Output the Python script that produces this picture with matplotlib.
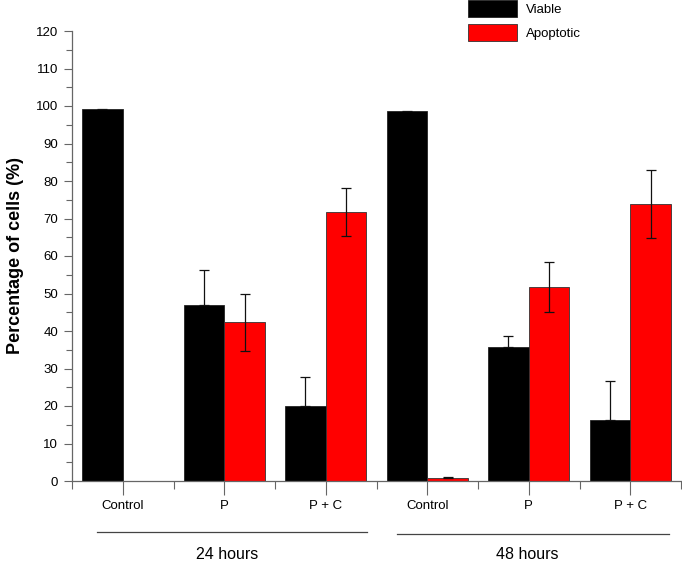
import numpy as np
import matplotlib
matplotlib.use('Agg')
import matplotlib.pyplot as plt
from matplotlib.ticker import MultipleLocator, FixedLocator
import matplotlib.transforms as mtransforms

plt.rcParams['font.family'] = ['Liberation Sans', 'DejaVu Sans']

groups = ['Control', 'P', 'P + C', 'Control', 'P', 'P + C']
viable = [99.3, 47.0, 20.0, 98.8, 35.8, 16.3]
viable_err = [np.nan, 9.4, 7.7, np.nan, 2.9, 10.4]
apoptotic = [0.0, 42.3, 71.8, 0.9, 51.8, 73.9]
apoptotic_err = [np.nan, 7.6, 6.4, 0.1, 6.7, 9.1]
periods = ['24 hours', '48 hours']

fig = plt.figure(figsize=(6.82, 5.63), dpi=100)
ax = fig.add_axes([72/682, 1-481/563, 609/682, 450/563])

x = np.arange(len(groups))
w = 0.4
gray = '#666666'
ekw = dict(ecolor='#111111', elinewidth=0.9, capsize=3.3, capthick=0.9)
# lower half of the viable error bars is hidden by the black bar in the original
ax.bar(x - w/2, viable, w, color='black', edgecolor='#222222', linewidth=0.6,
       yerr=[np.zeros(len(viable_err)), viable_err], error_kw=ekw, label='Viable')
ax.bar(x + w/2, apoptotic, w, color='#ff0000', edgecolor='#333333', linewidth=0.6,
       yerr=apoptotic_err, error_kw=ekw, label='Apoptotic')

ax.set_xlim(-0.5, 5.5)
ax.set_ylim(0, 120)
ax.yaxis.set_major_locator(MultipleLocator(10))
ax.yaxis.set_minor_locator(MultipleLocator(5))
ax.set_xticks(x)
ax.set_xticklabels(groups, fontsize=9.5)
ax.xaxis.set_minor_locator(FixedLocator(np.arange(-0.5, 6, 1.0)))
ax.tick_params(axis='y', which='major', length=6, width=0.8, color=gray, labelsize=9.5, pad=4)
ax.tick_params(axis='y', which='minor', length=4, width=0.8, color=gray)
ax.tick_params(axis='x', which='major', length=10, width=0.8, color=gray, pad=4)
ax.tick_params(axis='x', which='minor', length=6, width=0.8, color=gray)

for s in ['top', 'right']:
    ax.spines[s].set_visible(False)
for s in ['left', 'bottom']:
    ax.spines[s].set_color(gray)
    ax.spines[s].set_linewidth(0.9)

ax.set_ylabel('Percentage of cells (%)', fontsize=13, fontweight='bold')
ax.yaxis.set_label_coords(-0.078, 0.5)

# period brackets under the tick labels
trans = mtransforms.blended_transform_factory(ax.transData, ax.transAxes)
spans = [(-0.25, 2.41, -0.113), (2.70, 5.38, -0.118)]
for (x0, x1, yy), name in zip(spans, periods):
    ax.plot([x0, x1], [yy, yy], color='#444444', linewidth=0.9, transform=trans, clip_on=False)
    ax.text((x0 + x1) / 2 - 0.05, -0.163, name, transform=trans, ha='center', va='center', fontsize=11.5)

leg = ax.legend(loc='upper left', bbox_to_anchor=(468/682, 1.0), bbox_transform=fig.transFigure,
                frameon=False, fontsize=9.5, handlelength=3.7, handleheight=1.6,
                labelspacing=0.55, handletextpad=0.7, borderpad=0.0, borderaxespad=0.0)

fig.savefig('out.png', dpi=100)
